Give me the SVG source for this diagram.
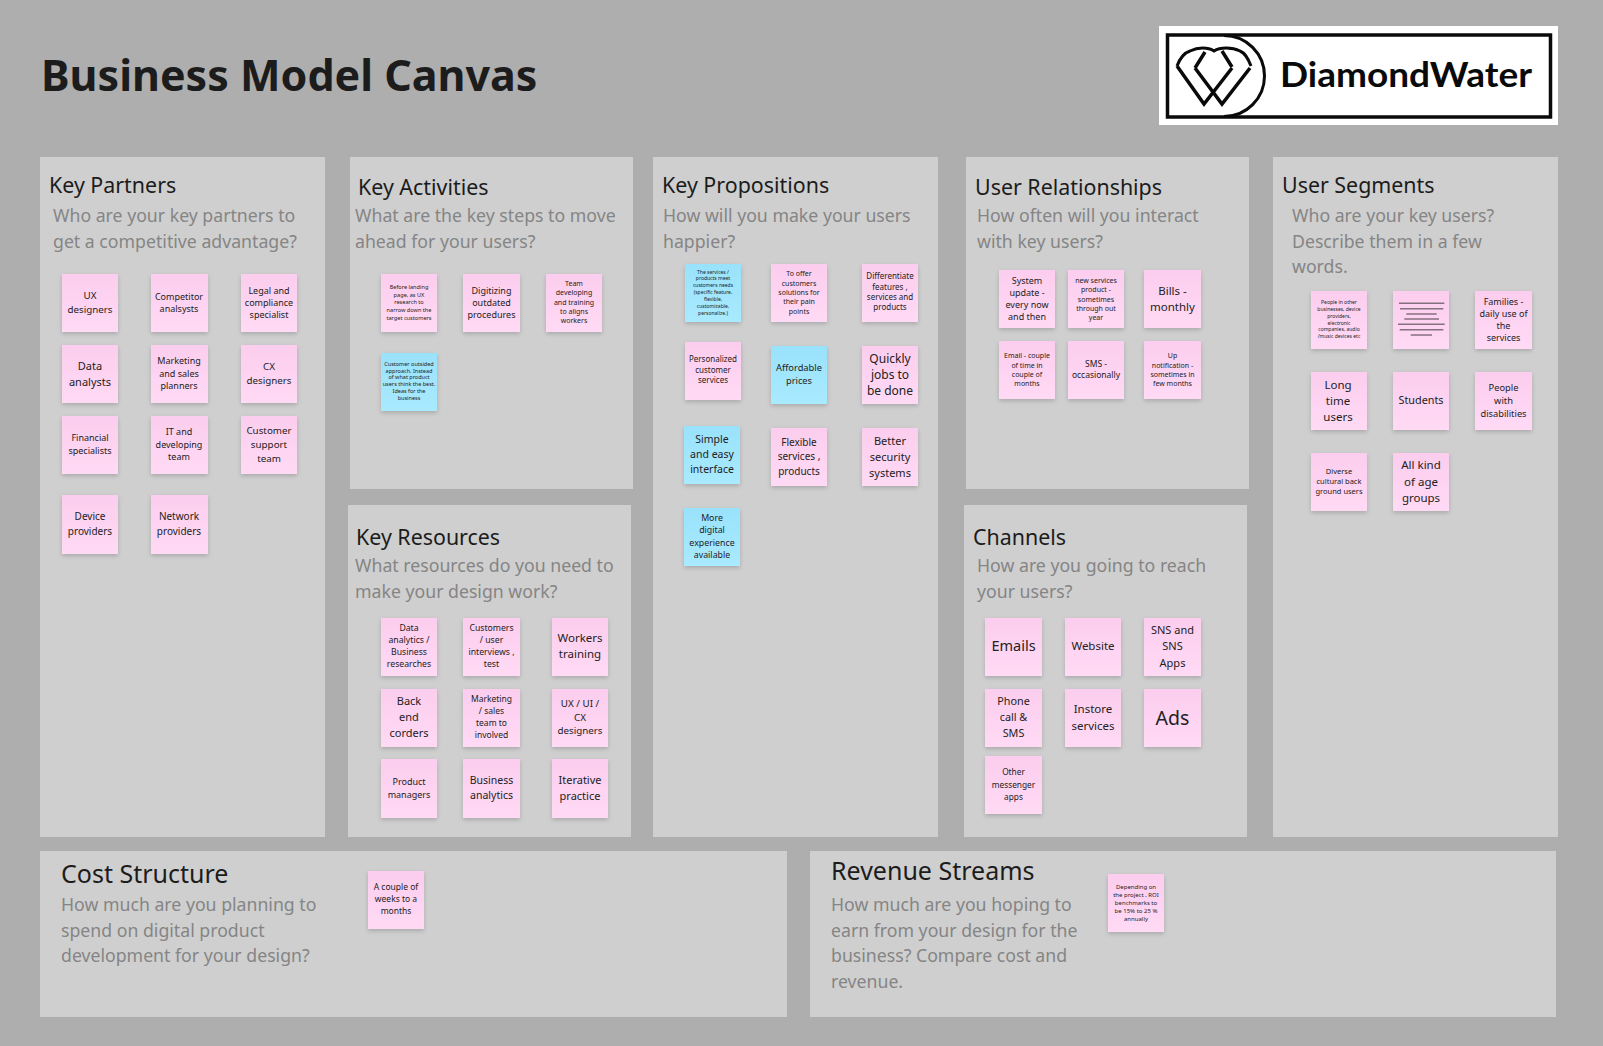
<svg xmlns="http://www.w3.org/2000/svg" width="1603" height="1046" viewBox="0 0 1603 1046">
<style>
text{font-family:"Noto Sans","Open Sans","Liberation Sans",sans-serif}
.bg{fill:#aeaeae}.panel{fill:#cfcfcf}
.title{font-size:43px;font-weight:700;fill:#1c1c1c}
.h{font-size:21.4px;fill:#1c1c1c}.hl{font-size:25px;fill:#1c1c1c}
.d{font-size:17.7px;fill:#858585}
.s{fill:url(#pink);filter:url(#sh)}.b{fill:url(#blue);filter:url(#sh)}
.t{text-anchor:middle;fill:#222}
.bar{stroke:#85707f;stroke-width:1.4}
.logo{fill:none;stroke:#0a0a0a}
</style>
<defs>
<linearGradient id="pink" x1="0" y1="0" x2="0" y2="1"><stop offset="0" stop-color="#fccdee"/><stop offset="1" stop-color="#ffdaf5"/></linearGradient>
<linearGradient id="blue" x1="0" y1="0" x2="0" y2="1"><stop offset="0" stop-color="#99e2fb"/><stop offset="1" stop-color="#a9eaff"/></linearGradient>
<filter id="sh" x="-20%" y="-20%" width="140%" height="140%"><feDropShadow dx="0" dy="2" stdDeviation="2" flood-color="#000" flood-opacity="0.18"/></filter>
</defs>
<rect class="bg" width="1603" height="1046"/>
<text class="title" x="41" y="91">Business Model Canvas</text>
<g id="logo">
<rect x="1159" y="26" width="399" height="99" fill="#fff"/>
<rect class="logo" x="1167.5" y="35" width="383" height="82" stroke-width="3.5"/>
<path class="logo" stroke-width="3" d="M1224 35.500A40.500 40.500 0 0 1 1224 116.500"/>
<path class="logo" stroke-width="3" d="M1177 66C1180 58 1184 53 1190 51C1198 47 1208 47 1214 51C1220 47 1232 47 1240 51C1245 53 1248 58 1251 66"/>
<path class="logo" stroke-width="3.500" d="M1177 66L1204 104 1232 68M1195 68L1222 104 1250 68M1195 68L1205 52M1232 67L1222 51"/>
<text x="1280" y="87" font-size="34" font-weight="700" textLength="252" lengthAdjust="spacingAndGlyphs" fill="#0a0a0a" style="font-family:Lato,sans-serif">DiamondWater</text>
</g>
<g id="key-partners">
<rect class="panel" x="40" y="157" width="285" height="680"/>
<text class="h" x="49" y="193">Key Partners</text>
<text class="d" x="53" y="222">Who are your key partners to</text><text class="d" x="53" y="247.500">get a competitive advantage?</text>
<rect class="s" x="62" y="274" width="56" height="58"/><text class="t" font-size="9.8" x="90"><tspan x="90" y="299">UX</tspan><tspan x="90" y="313">designers</tspan></text>
<rect class="s" x="151" y="274" width="57" height="58"/><text class="t" font-size="9" x="179"><tspan x="179" y="299.500">Competitor</tspan><tspan x="179" y="312">analsysts</tspan></text>
<rect class="s" x="241" y="274" width="56" height="58"/><text class="t" font-size="9" x="269"><tspan x="269" y="293.500">Legal and</tspan><tspan x="269" y="305.500">compliance</tspan><tspan x="269" y="317.500">specialist</tspan></text>
<rect class="s" x="62" y="345" width="56" height="58"/><text class="t" font-size="11" x="90"><tspan x="90" y="369.500">Data</tspan><tspan x="90" y="385.500">analysts</tspan></text>
<rect class="s" x="151" y="345" width="57" height="58"/><text class="t" font-size="9" x="179"><tspan x="179" y="364">Marketing</tspan><tspan x="179" y="376.500">and sales</tspan><tspan x="179" y="389">planners</tspan></text>
<rect class="s" x="241" y="345" width="56" height="58"/><text class="t" font-size="9.800" x="269"><tspan x="269" y="370">CX</tspan><tspan x="269" y="384">designers</tspan></text>
<rect class="s" x="62" y="416" width="56" height="58"/><text class="t" font-size="9" x="90"><tspan x="90" y="441">Financial</tspan><tspan x="90" y="454">specialists</tspan></text>
<rect class="s" x="151" y="416" width="57" height="58"/><text class="t" font-size="9" x="179"><tspan x="179" y="435">IT and</tspan><tspan x="179" y="447.500">developing</tspan><tspan x="179" y="459.500">team</tspan></text>
<rect class="s" x="241" y="416" width="56" height="58"/><text class="t" font-size="9.800" x="269"><tspan x="269" y="434">Customer</tspan><tspan x="269" y="448">support</tspan><tspan x="269" y="462">team</tspan></text>
<rect class="s" x="62" y="495" width="56" height="59"/><text class="t" font-size="10" x="90"><tspan x="90" y="520">Device</tspan><tspan x="90" y="535">providers</tspan></text>
<rect class="s" x="151" y="495" width="57" height="59"/><text class="t" font-size="10" x="179"><tspan x="179" y="520">Network</tspan><tspan x="179" y="535">providers</tspan></text>
</g>
<g id="key-activities">
<rect class="panel" x="350" y="157" width="283" height="332"/>
<text class="h" x="358" y="195">Key Activities</text>
<text class="d" x="355" y="222">What are the key steps to move</text><text class="d" x="355" y="247.500">ahead for your users?</text>
<rect class="s" x="381" y="274" width="56" height="58"/><text class="t" font-size="5.600"><tspan x="409" y="288.700">Before landing</tspan><tspan x="409" y="296.700">page, as UX</tspan><tspan x="409" y="304.300">research to</tspan><tspan x="409" y="312">narrow down the</tspan><tspan x="409" y="319.700">target customers</tspan></text>
<rect class="s" x="463" y="274" width="57" height="58"/><text class="t" font-size="9"><tspan x="491.500" y="293.500">Digitizing</tspan><tspan x="491.500" y="305.500">outdated</tspan><tspan x="491.500" y="317.500">procedures</tspan></text>
<rect class="s" x="546" y="274" width="56" height="58"/><text class="t" font-size="7"><tspan x="574" y="286">Team</tspan><tspan x="574" y="295.300">developing</tspan><tspan x="574" y="304.600">and training</tspan><tspan x="574" y="314">to aligns</tspan><tspan x="574" y="323.300">workers</tspan></text>
<rect class="b" x="381" y="353" width="56" height="58"/><text class="t" font-size="5.500"><tspan x="409" y="365.600">Customer outsided</tspan><tspan x="409" y="372.600">approach. Instead</tspan><tspan x="409" y="379.300">of what product</tspan><tspan x="409" y="386">users think the best.</tspan><tspan x="409" y="393">Ideas for the</tspan><tspan x="409" y="400">business</tspan></text>
</g>
<g id="key-resources">
<rect class="panel" x="348" y="505" width="283" height="332"/>
<text class="h" x="356" y="545">Key Resources</text>
<text class="d" x="355" y="572">What resources do you need to</text><text class="d" x="355" y="597.500">make your design work?</text>
<rect class="s" x="381" y="618" width="56" height="58"/><text class="t" font-size="8.700"><tspan x="409" y="630.700">Data</tspan><tspan x="409" y="643">analytics /</tspan><tspan x="409" y="655">Business</tspan><tspan x="409" y="667">researches</tspan></text>
<rect class="s" x="463" y="618" width="57" height="58"/><text class="t" font-size="8.700"><tspan x="491.500" y="630.700">Customers</tspan><tspan x="491.500" y="643">/ user</tspan><tspan x="491.500" y="655">interviews ,</tspan><tspan x="491.500" y="667">test</tspan></text>
<rect class="s" x="552" y="618" width="56" height="58"/><text class="t" font-size="11.500"><tspan x="580" y="642">Workers</tspan><tspan x="580" y="658">training</tspan></text>
<rect class="s" x="381" y="689" width="56" height="58"/><text class="t" font-size="11"><tspan x="409" y="705">Back</tspan><tspan x="409" y="721">end</tspan><tspan x="409" y="737">corders</tspan></text>
<rect class="s" x="463" y="689" width="57" height="58"/><text class="t" font-size="8.500"><tspan x="491.500" y="701.700">Marketing</tspan><tspan x="491.500" y="713.700">/ sales</tspan><tspan x="491.500" y="725.700">team to</tspan><tspan x="491.500" y="737.700">involved</tspan></text>
<rect class="s" x="552" y="689" width="56" height="58"/><text class="t" font-size="9.800"><tspan x="580" y="706.500">UX / UI /</tspan><tspan x="580" y="720.500">CX</tspan><tspan x="580" y="734">designers</tspan></text>
<rect class="s" x="381" y="759" width="56" height="59"/><text class="t" font-size="9"><tspan x="409" y="785">Product</tspan><tspan x="409" y="797.500">managers</tspan></text>
<rect class="s" x="463" y="759" width="57" height="59"/><text class="t" font-size="10.500"><tspan x="491.500" y="783.500">Business</tspan><tspan x="491.500" y="798.500">analytics</tspan></text>
<rect class="s" x="552" y="759" width="56" height="59"/><text class="t" font-size="11"><tspan x="580" y="783.500">Iterative</tspan><tspan x="580" y="800">practice</tspan></text>
</g>
<g id="key-propositions">
<rect class="panel" x="653" y="157" width="285" height="680"/>
<text class="h" x="662" y="193">Key Propositions</text>
<text class="d" x="663" y="222">How will you make your users</text><text class="d" x="663" y="247.500">happier?</text>
<rect class="b" x="685" y="264" width="56" height="58"/><text class="t" font-size="5"><tspan x="713" y="273.500">The services /</tspan><tspan x="713" y="280">products meet</tspan><tspan x="713" y="287">customers needs</tspan><tspan x="713" y="294">(specific feature,</tspan><tspan x="713" y="301">flexible,</tspan><tspan x="713" y="307.500">customizable,</tspan><tspan x="713" y="314.500">personalize.)</tspan></text>
<rect class="s" x="771" y="264" width="56" height="58"/><text class="t" font-size="7"><tspan x="799" y="275.800">To offer</tspan><tspan x="799" y="285.500">customers</tspan><tspan x="799" y="294.800">solutions for</tspan><tspan x="799" y="304.200">their pain</tspan><tspan x="799" y="313.500">points</tspan></text>
<rect class="s" x="862" y="264" width="56" height="58"/><text class="t" font-size="8"><tspan x="890" y="279.200">Differentiate</tspan><tspan x="890" y="289.600">features ,</tspan><tspan x="890" y="299.900">services and</tspan><tspan x="890" y="310.200">products</tspan></text>
<rect class="s" x="685" y="342" width="56" height="58"/><text class="t" font-size="8"><tspan x="713" y="362.200">Personalized</tspan><tspan x="713" y="372.600">customer</tspan><tspan x="713" y="382.900">services</tspan></text>
<rect class="b" x="771" y="346" width="56" height="58"/><text class="t" font-size="9.300"><tspan x="799" y="371.300">Affordable</tspan><tspan x="799" y="384.300">prices</tspan></text>
<rect class="s" x="862" y="346" width="56" height="58"/><text class="t" font-size="12"><tspan x="890" y="363">Quickly</tspan><tspan x="890" y="379">jobs to</tspan><tspan x="890" y="395">be done</tspan></text>
<rect class="b" x="684" y="426" width="56" height="58"/><text class="t" font-size="10.500"><tspan x="712" y="442.800">Simple</tspan><tspan x="712" y="458.100">and easy</tspan><tspan x="712" y="473.100">interface</tspan></text>
<rect class="s" x="771" y="428" width="56" height="58"/><text class="t" font-size="10"><tspan x="799" y="445.500">Flexible</tspan><tspan x="799" y="460.200">services ,</tspan><tspan x="799" y="474.500">products</tspan></text>
<rect class="s" x="862" y="428" width="56" height="58"/><text class="t" font-size="11"><tspan x="890" y="444.500">Better</tspan><tspan x="890" y="460.800">security</tspan><tspan x="890" y="476.800">systems</tspan></text>
<rect class="b" x="684" y="508" width="56" height="58"/><text class="t" font-size="8.800"><tspan x="712" y="521.400">More</tspan><tspan x="712" y="533.400">digital</tspan><tspan x="712" y="545.800">experience</tspan><tspan x="712" y="557.800">available</tspan></text>
</g>
<g id="user-relationships">
<rect class="panel" x="966" y="157" width="283" height="332"/>
<text class="h" x="975" y="195">User Relationships</text>
<text class="d" x="977" y="222">How often will you interact</text><text class="d" x="977" y="247.500">with key users?</text>
<rect class="s" x="999" y="270" width="56" height="58"/><text class="t" font-size="9"><tspan x="1027" y="283.900">System</tspan><tspan x="1027" y="295.900">update -</tspan><tspan x="1027" y="308.200">every now</tspan><tspan x="1027" y="320.200">and then</tspan></text>
<rect class="s" x="1068" y="270" width="56" height="58"/><text class="t" font-size="7"><tspan x="1096" y="282.800">new services</tspan><tspan x="1096" y="292.200">product -</tspan><tspan x="1096" y="301.500">sometimes</tspan><tspan x="1096" y="310.800">through out</tspan><tspan x="1096" y="320.200">year</tspan></text>
<rect class="s" x="1144" y="270" width="57" height="58"/><text class="t" font-size="11.500"><tspan x="1172.500" y="295">Bills -</tspan><tspan x="1172.500" y="311.300">monthly</tspan></text>
<rect class="s" x="999" y="341" width="56" height="58"/><text class="t" font-size="7"><tspan x="1027" y="358.200">Email - couple</tspan><tspan x="1027" y="367.500">of time in</tspan><tspan x="1027" y="376.800">couple of</tspan><tspan x="1027" y="386.200">months</tspan></text>
<rect class="s" x="1068" y="341" width="56" height="58"/><text class="t" font-size="8.500"><tspan x="1096" y="367">SMS -</tspan><tspan x="1096" y="378.300">occasionally</tspan></text>
<rect class="s" x="1144" y="341" width="57" height="58"/><text class="t" font-size="7"><tspan x="1172.500" y="358.200">Up</tspan><tspan x="1172.500" y="367.500">notification -</tspan><tspan x="1172.500" y="376.800">sometimes in</tspan><tspan x="1172.500" y="386.200">few months</tspan></text>
</g>
<g id="channels">
<rect class="panel" x="964" y="505" width="283" height="332"/>
<text class="h" x="973" y="545">Channels</text>
<text class="d" x="977" y="572">How are you going to reach</text><text class="d" x="977" y="597.500">your users?</text>
<rect class="s" x="985" y="618" width="57" height="58"/><text class="t" font-size="14.500" x="1013.500" y="651.300">Emails</text>
<rect class="s" x="1065" y="618" width="56" height="58"/><text class="t" font-size="11.500" x="1093" y="650.300">Website</text>
<rect class="s" x="1144" y="618" width="57" height="58"/><text class="t" font-size="11"><tspan x="1172.500" y="634">SNS and</tspan><tspan x="1172.500" y="650.300">SNS</tspan><tspan x="1172.500" y="666.700">Apps</tspan></text>
<rect class="s" x="985" y="689" width="57" height="58"/><text class="t" font-size="10.800"><tspan x="1013.500" y="705">Phone</tspan><tspan x="1013.500" y="721.300">call &amp;</tspan><tspan x="1013.500" y="737.300">SMS</tspan></text>
<rect class="s" x="1065" y="689" width="56" height="58"/><text class="t" font-size="11.500"><tspan x="1093" y="712.700">Instore</tspan><tspan x="1093" y="729.700">services</tspan></text>
<rect class="s" x="1144" y="689" width="57" height="58"/><text class="t" font-size="19.500" x="1172.500" y="724.500">Ads</text>
<rect class="s" x="985" y="756" width="57" height="58"/><text class="t" font-size="8.300"><tspan x="1013.500" y="775.200">Other</tspan><tspan x="1013.500" y="787.600">messenger</tspan><tspan x="1013.500" y="800">apps</tspan></text>
</g>
<g id="user-segments">
<rect class="panel" x="1273" y="157" width="285" height="680"/>
<text class="h" x="1282" y="193">User Segments</text>
<text class="d" x="1292" y="222">Who are your key users?</text><text class="d" x="1292" y="247.500">Describe them in a few</text><text class="d" x="1292" y="273">words.</text>
<rect class="s" x="1311" y="291" width="56" height="58"/><text class="t" font-size="5"><tspan x="1339" y="304">People in other</tspan><tspan x="1339" y="311">businesses, device</tspan><tspan x="1339" y="317.700">providers,</tspan><tspan x="1339" y="324.700">electronic</tspan><tspan x="1339" y="331.400">companies, audio</tspan><tspan x="1339" y="338.400">/music devices etc</tspan></text>
<rect class="s" x="1393" y="291" width="56" height="58"/>
<path class="bar" d="M1399 303.300H1444.300M1400 308.700H1443.300M1406.300 314H1436.700M1404.300 319H1439M1398 324.300H1444.700M1399.700 329.700H1443.300M1410.700 335H1432"/>
<rect class="s" x="1475" y="291" width="57" height="58"/><text class="t" font-size="9"><tspan x="1503.500" y="304.500">Families -</tspan><tspan x="1503.500" y="316.500">daily use of</tspan><tspan x="1503.500" y="328.900">the</tspan><tspan x="1503.500" y="340.900">services</tspan></text>
<rect class="s" x="1311" y="372" width="56" height="58"/><text class="t" font-size="11.500"><tspan x="1338" y="388.700">Long</tspan><tspan x="1338" y="404.700">time</tspan><tspan x="1338" y="420.700">users</tspan></text>
<rect class="s" x="1393" y="372" width="56" height="58"/><text class="t" font-size="10.800" x="1421" y="404">Students</text>
<rect class="s" x="1475" y="372" width="57" height="58"/><text class="t" font-size="9.300"><tspan x="1503.500" y="391.300">People</tspan><tspan x="1503.500" y="404">with</tspan><tspan x="1503.500" y="416.600">disabilities</tspan></text>
<rect class="s" x="1311" y="453" width="56" height="58"/><text class="t" font-size="7.500"><tspan x="1339" y="473.600">Diverse</tspan><tspan x="1339" y="483.600">cultural back</tspan><tspan x="1339" y="494">ground users</tspan></text>
<rect class="s" x="1393" y="453" width="56" height="58"/><text class="t" font-size="11.500"><tspan x="1421" y="469.300">All kind</tspan><tspan x="1421" y="485.700">of age</tspan><tspan x="1421" y="501.700">groups</tspan></text>
</g>
<g id="cost-structure">
<rect class="panel" x="40" y="851" width="747" height="166"/>
<text class="hl" x="61" y="883">Cost Structure</text>
<text class="d" x="61" y="911">How much are you planning to</text><text class="d" x="61" y="936.500">spend on digital product</text><text class="d" x="61" y="962">development for your design?</text>
<rect class="s" x="368" y="871" width="56" height="58"/><text class="t" font-size="8.500"><tspan x="396" y="889.700">A couple of</tspan><tspan x="396" y="901.700">weeks to a</tspan><tspan x="396" y="914">months</tspan></text>
</g>
<g id="revenue-streams">
<rect class="panel" x="810" y="851" width="746" height="166"/>
<text class="hl" x="831" y="880">Revenue Streams</text>
<text class="d" x="831" y="911">How much are you hoping to</text><text class="d" x="831" y="936.500">earn from your design for the</text><text class="d" x="831" y="962">business? Compare cost and</text><text class="d" x="831" y="987.500">revenue.</text>
<rect class="s" x="1108" y="874" width="56" height="58"/><text class="t" font-size="6"><tspan x="1136" y="888.800">Depending on</tspan><tspan x="1136" y="896.800">the project , ROI</tspan><tspan x="1136" y="904.800">benchmarks to</tspan><tspan x="1136" y="912.800">be 15% to 25 %</tspan><tspan x="1136" y="920.800">annually</tspan></text>
</g>
<g id="connectors"/>
</svg>
